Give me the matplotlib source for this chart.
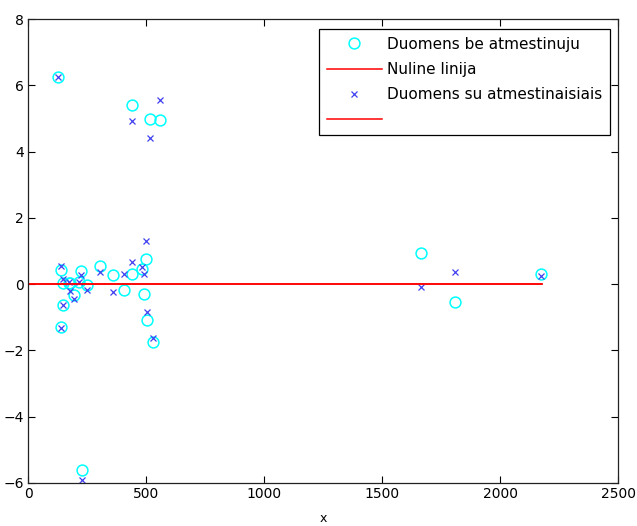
import numpy as np
import matplotlib
matplotlib.use("Agg")
import matplotlib.pyplot as plt

# x positions of the data points
x = [128, 138, 140, 150, 150, 175, 195, 178, 225, 215, 249, 229,
     305, 361, 407, 442, 439, 481, 501, 493, 505, 528, 517, 559,
     1665, 1810, 2172]
# data without outliers (circles)
y_be = [6.25, 0.42, -1.29, -0.63, 0.04, 0.02, -0.33, 0.02, 0.40, 0.05, -0.03, -5.61,
        0.55, 0.27, -0.18, 0.32, 5.42, 0.47, 0.77, -0.31, -1.08, -1.75, 4.97, 4.95,
        0.94, -0.55, 0.30]
# data with outliers (crosses)
y_su = [6.25, 0.55, -1.31, -0.63, 0.17, 0.05, -0.46, -0.20, 0.27, 0.05, -0.18, -5.91,
        0.37, -0.23, 0.30, 0.67, 4.93, 0.53, 1.30, 0.32, -0.83, -1.62, 4.40, 5.55,
        -0.08, 0.38, 0.25]

zero_x = [0, 2176]
zero_y = [0, 0]

labels = ['Duomens be atmestinuju', 'Nuline linija', 'Duomens su atmestinaisiais', '']

fig = plt.figure(figsize=(6.37, 5.26), dpi=100)
ax = fig.add_axes([28/637, 1 - 483/526, 590/637, 464/526])

h1, = ax.plot(x, y_be, 'o', linestyle='none', mfc='none', mec='cyan', ms=7.8, mew=1.1)
h2, = ax.plot(zero_x, zero_y, color='red', lw=1.1)
h3, = ax.plot(x, y_su, 'x', linestyle='none', color='#4040f0', ms=5, mew=0.9)
h4, = ax.plot(zero_x, zero_y, color='red', lw=1.1)

ax.set_xlim(0, 2500)
ax.set_ylim(-6, 8)
ax.set_xticks(np.arange(0, 2501, 500))
ax.set_yticks(np.arange(-6, 9, 2))
ax.tick_params(direction='in', length=5, width=0.8, top=True, right=True,
               labelsize=10, pad=3)
for s in ax.spines.values():
    s.set_linewidth(0.9)
    s.set_color('#222222')

ax.set_xlabel('x', fontsize=9, labelpad=8)

leg = ax.legend([h1, h2, h3, h4], labels, loc='upper right',
                bbox_to_anchor=(0.9864, 0.9784), borderaxespad=0,
                fancybox=False, framealpha=1, edgecolor='black',
                fontsize=11, handlelength=3.6, handletextpad=0.35,
                labelspacing=0.68, borderpad=0.5)
leg.get_frame().set_linewidth(0.9)

fig.savefig('out.png', dpi=100)
